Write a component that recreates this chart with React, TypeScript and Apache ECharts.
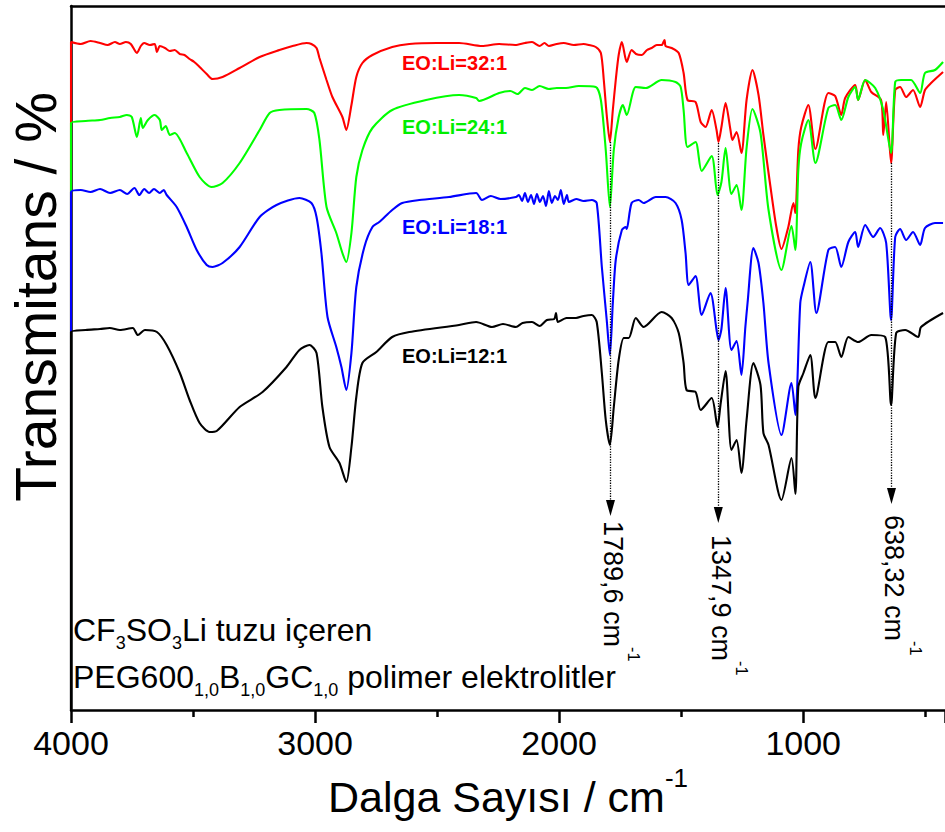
import React, { useEffect, useRef } from 'react';
import * as echarts from 'echarts';

// wavenumber range (reversed axis: 4000 on the left)
const X0 = 4000;
const XEND = 419;

// [wavenumber (cm-1), transmittance (a.u.)]
const red32: number[][] = [
  [4000, 0], [4000, 668], [3960, 666], [3920, 669], [3881, 667], [3850, 665], [3820, 668], [3800, 666], [3775, 668], [3755, 666],
  [3730, 657], [3714, 664], [3700, 667], [3677, 665], [3657, 666], [3648, 658], [3636, 664], [3615, 662], [3595, 659], [3575, 660],
  [3554, 656], [3535, 655], [3514, 651], [3495, 648], [3473, 643], [3444, 636], [3420, 631], [3379, 633], [3309, 642], [3227, 653],
  [3146, 660], [3092, 664], [3035, 667], [3015, 666], [2994, 662], [2982, 652], [2953, 630], [2929, 613], [2888, 593], [2872, 580],
  [2851, 605], [2831, 633], [2806, 647], [2765, 655], [2684, 663], [2614, 666], [2500, 667], [2410, 667], [2316, 664], [2246, 666],
  [2180, 665], [2140, 667], [2111, 668], [2080, 664], [2060, 667], [2042, 664], [2010, 666], [1981, 667], [1940, 665], [1900, 666],
  [1878, 665], [1850, 663], [1829, 657], [1817, 630], [1805, 595], [1792, 568], [1780, 600], [1768, 630], [1756, 655], [1743, 668],
  [1723, 648], [1703, 660], [1685, 656], [1662, 655], [1640, 660], [1621, 662], [1600, 665], [1580, 665], [1568, 670], [1564, 664],
  [1539, 662], [1510, 657], [1490, 637], [1474, 610], [1441, 608], [1420, 588], [1400, 583], [1375, 600], [1355, 580], [1347, 568],
  [1335, 583], [1318, 607], [1298, 580], [1290, 570], [1273, 578], [1253, 557], [1232, 610], [1208, 640], [1183, 615], [1163, 575],
  [1134, 523], [1110, 483], [1089, 461], [1061, 483], [1040, 507], [1032, 497], [1020, 560], [1008, 583], [979, 605], [950, 561],
  [897, 617], [869, 614], [844, 595], [828, 612], [787, 625], [775, 610], [746, 630], [721, 618], [681, 610], [672, 575],
  [660, 608], [640, 547], [623, 620], [603, 623], [578, 613], [550, 620], [521, 603], [501, 620], [476, 627], [427, 638],
];

const green24: number[][] = [
  [4000, 0], [4000, 587], [3940, 589], [3881, 590], [3840, 592], [3800, 593], [3771, 595], [3751, 593], [3730, 573], [3714, 592],
  [3706, 582], [3685, 590], [3657, 595], [3636, 590], [3628, 580], [3612, 584], [3595, 575], [3575, 577], [3526, 557], [3473, 533],
  [3424, 523], [3379, 527], [3309, 547], [3227, 580], [3186, 597], [3146, 600], [3035, 601], [3003, 597], [2982, 570], [2953, 503],
  [2913, 477], [2888, 457], [2872, 448], [2851, 477], [2831, 533], [2806, 560], [2765, 582], [2684, 600], [2545, 610], [2410, 615],
  [2340, 612], [2328, 609], [2246, 617], [2200, 619], [2170, 616], [2140, 622], [2111, 620], [2080, 624], [2042, 621], [2010, 622],
  [1972, 622], [1920, 624], [1850, 623], [1829, 610], [1809, 560], [1792, 503], [1776, 560], [1756, 593], [1739, 605], [1723, 595],
  [1686, 623], [1645, 622], [1580, 630], [1523, 628], [1502, 623], [1490, 600], [1474, 563], [1441, 568], [1416, 539], [1375, 554],
  [1351, 515], [1335, 528], [1318, 562], [1294, 516], [1273, 525], [1253, 500], [1232, 562], [1208, 601], [1175, 577], [1142, 500],
  [1089, 440], [1048, 484], [1032, 460], [1020, 540], [1008, 567], [979, 590], [950, 547], [897, 602], [869, 605], [844, 590],
  [815, 613], [787, 623], [775, 610], [746, 630], [705, 622], [672, 600], [640, 557], [623, 628], [599, 630], [558, 630],
  [521, 617], [501, 637], [460, 640], [427, 648],
];

const blue18: number[][] = [
  [4000, 0], [4000, 518], [3960, 520], [3920, 518], [3881, 521], [3840, 517], [3800, 520], [3770, 516], [3740, 522], [3720, 515],
  [3700, 521], [3680, 517], [3660, 521], [3636, 517], [3620, 520], [3608, 515], [3567, 503], [3526, 483], [3485, 460], [3444, 445],
  [3420, 443], [3379, 447], [3309, 463], [3227, 493], [3158, 505], [3064, 512], [3015, 507], [2994, 493], [2974, 457], [2949, 393],
  [2913, 363], [2892, 343], [2872, 320], [2851, 357], [2831, 423], [2798, 463], [2765, 483], [2737, 488], [2684, 500], [2643, 507],
  [2573, 510], [2451, 513], [2340, 517], [2316, 510], [2280, 514], [2240, 511], [2177, 513], [2165, 515], [2152, 509], [2140, 517],
  [2128, 508], [2115, 515], [2103, 506], [2091, 516], [2079, 508], [2066, 514], [2054, 504], [2042, 519], [2030, 507], [2017, 514],
  [2005, 510], [1993, 520], [1981, 506], [1968, 515], [1960, 508], [1930, 511], [1900, 509], [1866, 510], [1846, 507], [1825, 443],
  [1805, 390], [1792, 355], [1780, 407], [1768, 450], [1743, 480], [1727, 483], [1723, 481], [1703, 507], [1674, 510], [1654, 507],
  [1604, 513], [1564, 513], [1523, 507], [1498, 490], [1482, 457], [1469, 425], [1441, 434], [1416, 395], [1380, 417], [1355, 380],
  [1347, 370], [1335, 381], [1318, 422], [1294, 360], [1273, 369], [1253, 335], [1237, 383], [1228, 407], [1204, 462], [1183, 447],
  [1163, 407], [1142, 347], [1089, 275], [1048, 327], [1032, 295], [1012, 407], [999, 423], [971, 448], [946, 397], [897, 460],
  [869, 463], [844, 443], [815, 468], [787, 478], [775, 463], [746, 485], [713, 473], [685, 482], [660, 467], [640, 390],
  [623, 473], [603, 481], [578, 470], [550, 478], [521, 465], [501, 482], [460, 487], [427, 487],
];

const black12: number[][] = [
  [4000, 0], [4000, 378], [3940, 380], [3881, 381], [3841, 382], [3800, 380], [3747, 382], [3726, 375], [3697, 380], [3648, 378],
  [3608, 365], [3554, 337], [3514, 310], [3473, 287], [3432, 278], [3403, 279], [3309, 303], [3215, 318], [3117, 343], [3064, 360],
  [3023, 365], [2994, 357], [2970, 303], [2941, 263], [2900, 247], [2872, 228], [2851, 263], [2831, 313], [2806, 347], [2749, 358],
  [2684, 373], [2614, 378], [2410, 385], [2340, 388], [2275, 383], [2230, 386], [2177, 383], [2150, 387], [2111, 388], [2080, 384],
  [2050, 390], [2020, 391], [2013, 397], [2005, 388], [1970, 392], [1931, 392], [1900, 394], [1866, 395], [1846, 388], [1825, 337],
  [1809, 290], [1792, 265], [1776, 303], [1756, 350], [1735, 372], [1715, 372], [1686, 392], [1654, 383], [1580, 398], [1539, 392],
  [1510, 377], [1490, 347], [1478, 320], [1441, 318], [1420, 300], [1375, 312], [1351, 283], [1339, 305], [1318, 339], [1294, 260],
  [1273, 270], [1253, 237], [1232, 290], [1204, 347], [1175, 325], [1163, 277], [1142, 265], [1089, 210], [1048, 252], [1032, 216],
  [1020, 323], [999, 337], [971, 355], [950, 312], [897, 368], [869, 368], [844, 353], [815, 373], [775, 368], [721, 375],
  [664, 373], [640, 305], [619, 377], [582, 380], [529, 373], [517, 383], [427, 397],
];

const seriesNames = ['EO:Li=32:1', 'EO:Li=24:1', 'EO:Li=18:1', 'EO:Li=12:1'];
const seriesColors = ['#ff0000', '#00ff00', '#0000ff', '#000000'];
const labelColors = ['#ff0000', '#00ee00', '#0000ff', '#000000'];
const labelY = [63, 127, 227, 356];

// marked bands
const peakPositions = [1789.6, 1347.9, 638.32];
const peakTexts = ['1789,6', '1347,9', '638,32'];
const arrowStart = [568, 567, 547];
const arrowEnd = [202, 195, 214];
const peakLabelTop = [521, 535, 515];

const FONT = "'Liberation Sans', Arial, Helvetica, sans-serif";

export default function App() {
  const ref = useRef<HTMLDivElement>(null);
  useEffect(() => {
    document.body.style.margin = '0';
    const chart = echarts.init(ref.current!, null, { renderer: 'svg' });
    const toX = (w: number) => X0 - w;
    const datasets = [red32, green24, blue18, black12];
    const series: any[] = datasets.map((d, i) => ({
      name: seriesNames[i],
      type: 'line',
      data: d.map(([w, v]) => [toX(w), v]),
      showSymbol: false,
      symbol: 'none',
      smooth: 0.25,
      lineStyle: { color: seriesColors[i], width: 2.1 },
      itemStyle: { color: seriesColors[i] },
      clip: true,
      silent: true,
    }));
    series[3].markLine = {
      silent: true,
      symbol: ['none', 'triangle'],
      symbolSize: [9, 16],
      label: { show: false },
      lineStyle: { type: 'dotted', color: '#000', width: 1.3 },
      data: peakPositions.map((p, i) => [
        { coord: [toX(p), arrowStart[i]] },
        { coord: [toX(p), arrowEnd[i]] },
      ]),
    };

    const grid = { left: 71, right: -2, top: 6, bottom: 122 };
    const gridW = 945 - grid.left - grid.right;
    const pxPerUnit = gridW / (X0 - XEND);
    const px = (w: number) => grid.left + (X0 - w) * pxPerUnit;

    const graphic: any[] = seriesNames.map((n, i) => ({
      type: 'text',
      x: 402,
      y: labelY[i],
      z: 10,
      style: {
        text: n,
        fill: labelColors[i],
        font: `bold 20px ${FONT}`,
        align: 'left',
        verticalAlign: 'middle',
      },
    }));
    peakPositions.forEach((p, i) => {
      graphic.push({
        type: 'text',
        x: px(p) + 1,
        y: peakLabelTop[i],
        rotation: -Math.PI / 2,
        z: 10,
        style: {
          text: `{m|${peakTexts[i]} cm}{s|-1}`,
          align: 'left',
          verticalAlign: 'middle',
          rich: {
            m: { fontSize: 27, fontFamily: FONT, lineHeight: 58, fill: '#000' },
            s: { fontSize: 16, fontFamily: FONT, lineHeight: 20, verticalAlign: 'top', fill: '#000' },
          },
        },
      });
    });
    const subRich = {
      n: { fontSize: 32, fontFamily: FONT, lineHeight: 44, fill: '#000' },
      b: { fontSize: 18, fontFamily: FONT, lineHeight: 22, verticalAlign: 'bottom', fill: '#000' },
    };
    graphic.push({
      type: 'text', x: 73, y: 630, z: 10,
      style: { text: '{n|CF}{b|3}{n|SO}{b|3}{n|Li tuzu içeren}', align: 'left', verticalAlign: 'middle', rich: subRich },
    });
    graphic.push({
      type: 'text', x: 73, y: 677, z: 10,
      style: {
        text: '{n|PEG600}{b|1,0}{n|B}{b|1,0}{n|GC}{b|1,0}{n| polimer elektrolitler}',
        align: 'left', verticalAlign: 'middle', rich: subRich,
      },
    });
    // y-axis title
    graphic.push({
      type: 'text', x: 36, y: 297, rotation: Math.PI / 2, z: 10,
      style: {
        text: 'Transmitans / %',
        font: `57px ${FONT}`,
        fill: '#000',
        align: 'center',
        verticalAlign: 'middle',
      },
    });

    chart.setOption({
      animation: false,
      backgroundColor: '#ffffff',
      grid,
      xAxis: [
        {
          type: 'value',
          min: 0,
          max: X0 - XEND,
          interval: 1000,
          axisLine: { show: true, onZero: false, lineStyle: { color: '#000', width: 2.5 } },
          axisTick: { show: true, length: 13, lineStyle: { color: '#000', width: 2.5 } },
          minorTick: { show: true, splitNumber: 2, length: 7, lineStyle: { color: '#000', width: 2.5 } },
          splitLine: { show: false },
          minorSplitLine: { show: false },
          axisLabel: {
            formatter: (v: number) => String(X0 - v),
            fontSize: 34,
            fontFamily: FONT,
            color: '#000',
            margin: 16,
            showMaxLabel: false,
          },
          name: '{m|Dalga Sayısı / cm}{s|-1}',
          nameLocation: 'middle',
          nameGap: 50,
          nameTextStyle: {
            rich: {
              m: { fontSize: 43, fontFamily: FONT, lineHeight: 64, color: '#000' },
              s: { fontSize: 26, fontFamily: FONT, lineHeight: 26, verticalAlign: 'top', color: '#000' },
            },
          },
        },
        {
          type: 'value',
          position: 'top',
          min: 0,
          max: X0 - XEND,
          axisLine: { show: true, onZero: false, lineStyle: { color: '#000', width: 2.5 } },
          axisTick: { show: false },
          axisLabel: { show: false },
          splitLine: { show: false },
        },
      ],
      yAxis: {
        type: 'value',
        min: 0,
        max: 704,
        axisLine: { show: true, onZero: false, lineStyle: { color: '#000', width: 2.5 } },
        axisTick: { show: false },
        axisLabel: { show: false },
        splitLine: { show: false },
      },
      series,
      graphic,
    });
    return () => chart.dispose();
  }, []);
  return <div ref={ref} style={{ width: 945, height: 832 }} />;
}
